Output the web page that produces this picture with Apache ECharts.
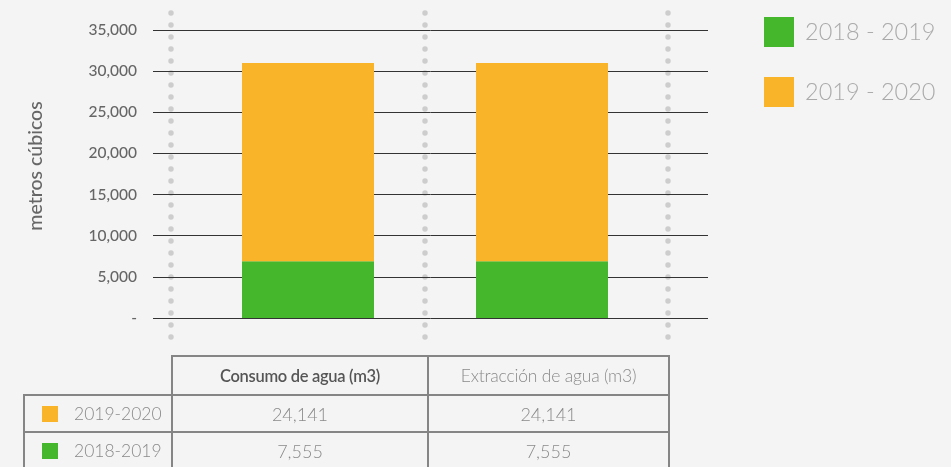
<!DOCTYPE html>
<html>
<head>
<meta charset="utf-8">
<script src="https://cdn.jsdelivr.net/npm/echarts@6/dist/echarts.min.js"></script>
<style>
  html, body { margin: 0; padding: 0; background: #f4f4f4; }
  #wrap { position: relative; width: 951px; height: 467px; overflow: hidden; font-family: Lato, 'Open Sans', sans-serif; }
  #chart { position: absolute; left: 0; top: 0; width: 951px; height: 467px; }
  table { position: absolute; left: 23px; top: 355px; border-collapse: collapse; table-layout: fixed; }
  td { border: 2px solid #858585; text-align: center; color: #8a8a8a; font-weight: 300; font-size: 18px; padding: 0; white-space: nowrap; }
  td.blank { border: none; border-bottom: 2px solid #858585; }
  td.head1 { font-weight: 600; color: #555; font-size: 16.5px; letter-spacing: -0.3px; }
  td.head2 { font-size: 17.5px; letter-spacing: -0.2px; }
  td.lab { text-align: left; font-size: 17.5px; }
  .sq { display: inline-block; width: 16px; height: 16px; vertical-align: -2px; margin: 0 16px 0 17px; }
</style>
</head>
<body>
<div id="wrap">
  <div id="chart"></div>
  <table id="tbl"></table>
</div>
<script>
// datos
const categories = ['Consumo de agua (m3)', 'Extracción de agua (m3)'];
const periods = ['2018 - 2019', '2019 - 2020'];
const bar2018 = [6900, 6900];
const bar2019 = [24100, 24100];
const tableRows = ['2019-2020', '2018-2019'];
const tableValues = [[24141, 24141], [7555, 7555]];

const green = '#45b72c';
const orange = '#f9b42a';

// tabla
const tbl = document.getElementById('tbl');
let html = '<colgroup><col style="width:148px"><col style="width:256px"><col style="width:241px"></colgroup>';
html += '<tr style="height:39px"><td class="blank"></td><td class="head1">' + categories[0] + '</td><td class="head2">' + categories[1] + '</td></tr>';
const rowColors = [orange, green];
tableRows.forEach((r, i) => {
  html += '<tr style="height:37px"><td class="lab"><span class="sq" style="background:' + rowColors[i] + '"></span>' + r + '</td>';
  tableValues[i].forEach(v => { html += '<td>' + v.toLocaleString('en-US') + '</td>'; });
  html += '</tr>';
});
tbl.innerHTML = html;

const myChart = echarts.init(document.getElementById('chart'));

const dotted = x => ({
  type: 'line', z: 0,
  shape: { x1: x, y1: 13, x2: x, y2: 345 },
  style: { stroke: '#cdcdcd', lineWidth: 5.5, lineDash: [0, 12], lineCap: 'round' }
});

const option = {
  backgroundColor: '#f4f4f4',
  animation: false,
  textStyle: { fontFamily: 'Lato' },
  graphic: [dotted(171), dotted(425), dotted(668)],
  legend: {
    orient: 'vertical',
    left: 759,
    top: 12,
    itemWidth: 30,
    itemHeight: 30,
    itemGap: 30,
    data: periods,
    icon: 'rect',
    textStyle: { color: '#aaa', fontSize: 23.5, fontWeight: 300, padding: [0, 0, 0, 6] }
  },
  grid: [
    { left: 153, right: 243, top: 30, bottom: 149 },
    { left: 191, right: 292, top: 30, bottom: 149 }
  ],
  xAxis: [
    { type: 'category', gridIndex: 0, data: categories, show: false },
    { type: 'category', gridIndex: 1, data: categories, show: false }
  ],
  yAxis: [
    {
      type: 'value', gridIndex: 0, min: 0, max: 35000, interval: 5000,
      name: 'metros cúbicos', nameLocation: 'middle', nameGap: 107,
      nameTextStyle: { color: '#666', fontSize: 19.5, fontWeight: 500, padding: [0, 0, 0, 16] },
      axisLine: { show: false }, axisTick: { show: false },
      axisLabel: {
        margin: 16, color: '#666', fontSize: 15.5, fontWeight: 500,
        formatter: v => v === 0 ? '-' : v.toLocaleString('en-US')
      },
      splitLine: { lineStyle: { color: '#333', width: 1 } }
    },
    {
      type: 'value', gridIndex: 1, min: 0, max: 35000, interval: 5000,
      show: false, splitLine: { show: false }
    }
  ],
  series: [
    {
      name: periods[0], type: 'bar', stack: 'total', xAxisIndex: 1, yAxisIndex: 1,
      barWidth: 132, itemStyle: { color: green }, data: bar2018, z: 3
    },
    {
      name: periods[1], type: 'bar', stack: 'total', xAxisIndex: 1, yAxisIndex: 1,
      barWidth: 132, itemStyle: { color: orange }, data: bar2019, z: 3
    }
  ]
};
myChart.setOption(option);
</script>
</body>
</html>
